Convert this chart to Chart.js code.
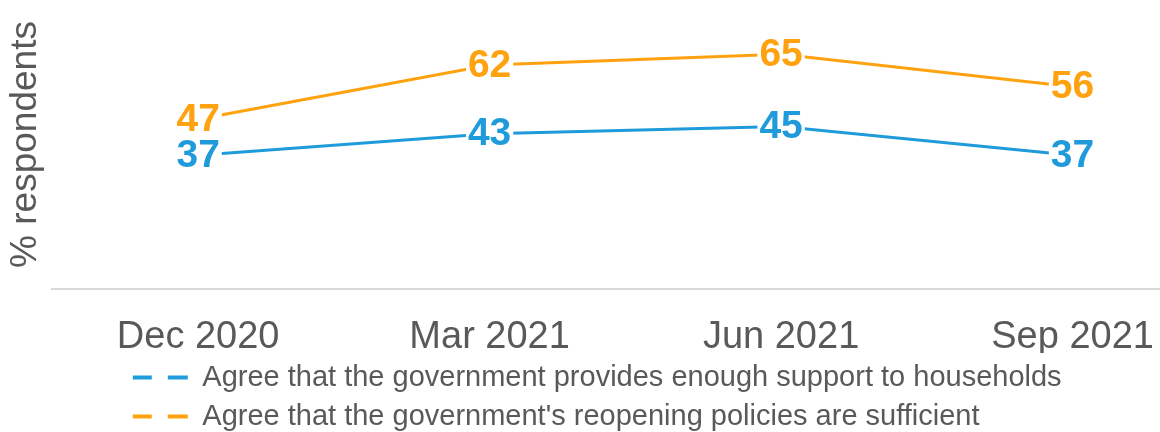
<!DOCTYPE html>
<html>
<head>
<meta charset="utf-8">
<script src="https://cdn.jsdelivr.net/npm/chart.js@4.4.1/dist/chart.umd.min.js"></script>
<style>
    html, body { margin: 0; padding: 0; background: #fff; }
    #wrap { width: 1160px; height: 432px; }
</style>
</head>
<body>
<div id="wrap"><canvas id="surveyChart"></canvas></div>
<script>
const periods = ['Dec 2020', 'Mar 2021', 'Jun 2021', 'Sep 2021'];
const supportHouseholds = [37, 43, 45, 37];
const reopeningPolicies = [47, 62, 65, 56];
const seriesNames = [
    'Agree that the government provides enough support to households',
    "Agree that the government's reopening policies are sufficient"
];

const BLUE = '#1f9bdb';
const ORANGE = '#ffa20f';
const GREY_TEXT = '#595959';
const FONT = '"Liberation Sans", Arial, sans-serif';

const toPoints = (values) => values.map((v, i) => ({ x: i, y: v }));

// value labels sitting on top of each point, white box hides the line under it
const pointLabels = {
    id: 'pointLabels',
    afterDatasetsDraw(chart) {
        const ctx = chart.ctx;
        ctx.save();
        ctx.font = `bold 39px ${FONT}`;
        ctx.textAlign = 'center';
        ctx.textBaseline = 'middle';
        chart.data.datasets.forEach((ds, di) => {
            const meta = chart.getDatasetMeta(di);
            meta.data.forEach((pt, i) => {
                const txt = String(ds.data[i].y);
                const w = ctx.measureText(txt).width + 4;
                ctx.fillStyle = '#fff';
                ctx.fillRect(pt.x - w / 2, pt.y - 17, w, 34);
                ctx.fillStyle = ds.borderColor;
                ctx.fillText(txt, pt.x, pt.y + 1);
            });
        });
        ctx.restore();
    }
};

// keep legend rows left-aligned with each other (nudged a bit left)
const legendRows = {
    id: 'legendRows',
    beforeDraw(chart) {
        const lg = chart.legend;
        if (!lg || !lg.lineWidths) return;
        const widest = Math.max(...lg.lineWidths);
        lg.lineWidths = lg.lineWidths.map(() => widest + 18);
    }
};

new Chart(document.getElementById('surveyChart'), {
    type: 'line',
    data: {
        datasets: [
            {
                label: seriesNames[0],
                data: toPoints(supportHouseholds),
                borderColor: BLUE,
                backgroundColor: BLUE,
                borderWidth: 3,
                pointRadius: 0,
                tension: 0
            },
            {
                label: seriesNames[1],
                data: toPoints(reopeningPolicies),
                borderColor: ORANGE,
                backgroundColor: ORANGE,
                borderWidth: 3,
                pointRadius: 0,
                tension: 0
            }
        ]
    },
    options: {
        responsive: true,
        maintainAspectRatio: false,
        animation: false,
        layout: { padding: { bottom: -9 } },
        scales: {
            x: {
                type: 'linear',
                min: -0.5,
                max: 3.3,
                afterBuildTicks: (scale) => {
                    scale.ticks = periods.map((p, i) => ({ value: i }));
                },
                ticks: {
                    callback: (value) => periods[value] || '',
                    color: GREY_TEXT,
                    font: { family: FONT, size: 38, lineHeight: 0.79 },
                    padding: 0,
                    maxRotation: 0,
                    autoSkip: false
                },
                grid: { display: false, drawTicks: true, tickLength: 34 },
                border: { display: true, color: '#d9d9d9', width: 2 }
            },
            y: {
                min: 0,
                max: 80,
                ticks: { display: false },
                grid: { display: false, drawTicks: false },
                border: { display: false },
                title: {
                    display: true,
                    text: '% respondents',
                    color: GREY_TEXT,
                    font: { family: FONT, size: 37 }
                }
            }
        },
        plugins: {
            legend: {
                position: 'bottom',
                fullSize: false,
                labels: {
                    color: GREY_TEXT,
                    font: { family: FONT, size: 29 },
                    usePointStyle: true,
                    pointStyle: 'line',
                    pointStyleWidth: 55,
                    padding: 10,
                    generateLabels: (chart) => {
                        const items = Chart.defaults.plugins.legend.labels.generateLabels(chart);
                        items.forEach(it => {
                            it.lineWidth = 4;
                            it.lineDash = [19, 16, 20];
                            it.lineCap = 'butt';
                            it.pointStyle = 'line';
                        });
                        return items;
                    }
                }
            },
            tooltip: { enabled: false }
        }
    },
    plugins: [pointLabels, legendRows]
});
</script>
</body>
</html>
